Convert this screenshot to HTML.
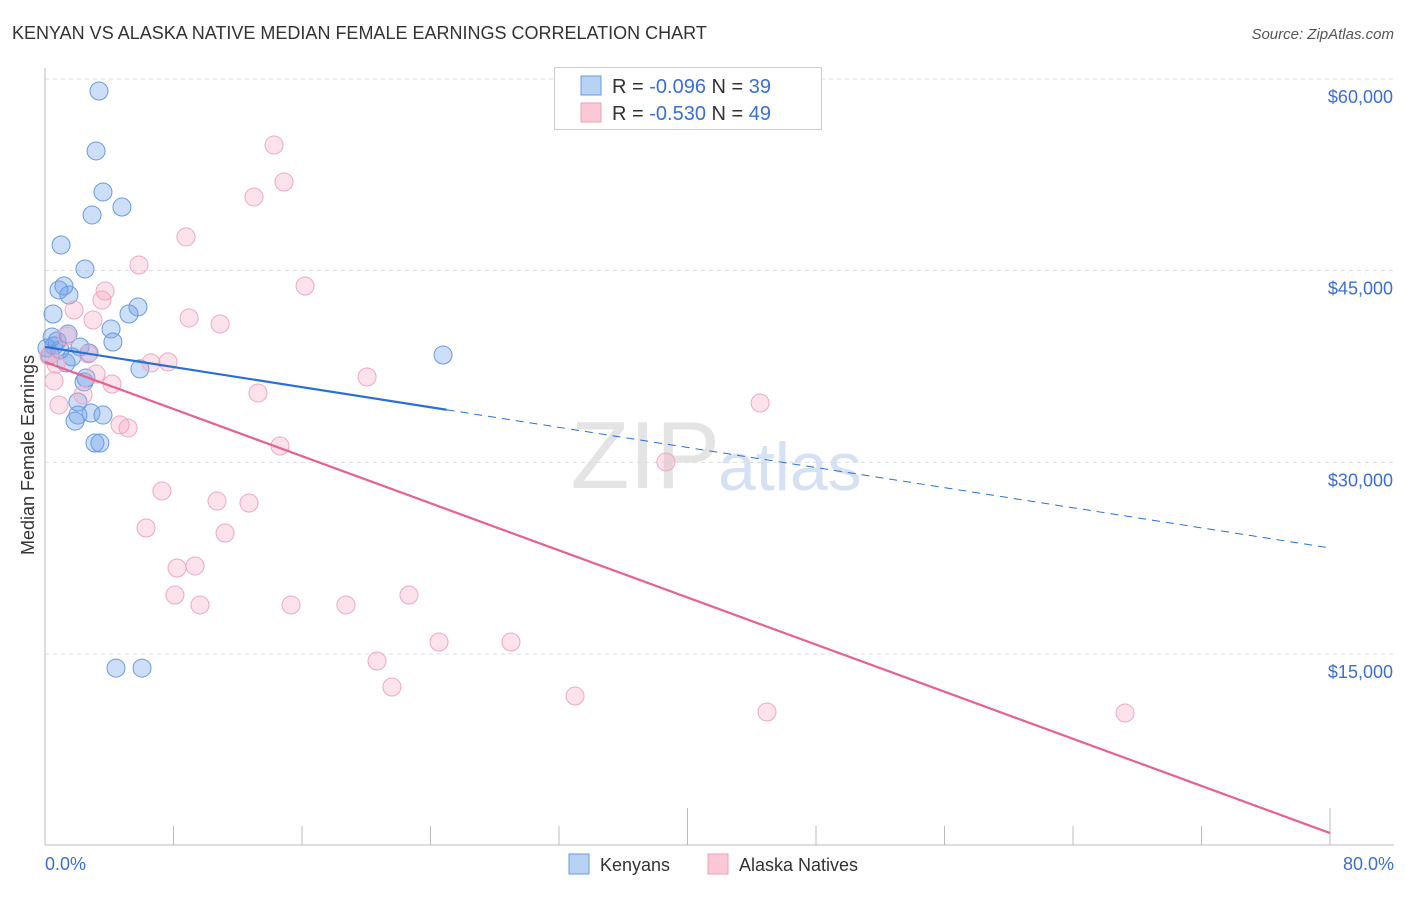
<!DOCTYPE html>
<html><head><meta charset="utf-8"><style>
body{margin:0;background:#fff;font-family:"Liberation Sans",sans-serif;}
svg text{font-family:"Liberation Sans",sans-serif;}
</style></head><body>
<svg id="chart" width="1406" height="892">
<text x="12" y="39" font-size="18" fill="#333">KENYAN VS ALASKA NATIVE MEDIAN FEMALE EARNINGS CORRELATION CHART</text>
<text x="1394" y="39" font-size="15" fill="#555" text-anchor="end" font-style="italic">Source: ZipAtlas.com</text>
<text x="720" y="488" font-size="96" fill="#e4e4e4" text-anchor="end" font-family="Liberation Serif">ZIP</text>
<text x="718" y="490" font-size="68" fill="#d6e2f4">atlas</text>
<g id="grid"></g><g id="axes"></g><g id="pts"></g><g id="trend"></g>
<text transform="translate(34,455) rotate(-90)" font-size="18" fill="#333" text-anchor="middle">Median Female Earnings</text>
<text x="45" y="870" font-size="18" fill="#3b6fd4">0.0%</text>
<text x="1394" y="870" font-size="18" fill="#3b6fd4" text-anchor="end">80.0%</text>
<g>
<rect x="554.5" y="67.5" width="267" height="62" fill="#fff" stroke="#ccc"/>
<rect x="581" y="76" width="20" height="19" fill="#b8d2f4" stroke="#6a9ae0"/>
<rect x="581" y="103" width="20" height="19" fill="#fbc8d6" stroke="#f0a0b8"/>
<text x="612" y="93" font-size="20" fill="#333">R = <tspan fill="#3b6fd4">-0.096</tspan>   N = <tspan fill="#3b6fd4">39</tspan></text>
<text x="612" y="120" font-size="20" fill="#333">R = <tspan fill="#3b6fd4">-0.530</tspan>   N = <tspan fill="#3b6fd4">49</tspan></text>
</g>
<g><rect x="569" y="854" width="20" height="20" fill="#b8d2f4" stroke="#6a9ae0"/><text x="600" y="871" font-size="18" fill="#333">Kenyans</text></g>
<g><rect x="708" y="854" width="20" height="20" fill="#fbc8d6" stroke="#f0a0b8"/><text x="739" y="871" font-size="18" fill="#333">Alaska Natives</text></g>
</svg>
<script>
const yTicks=[15000,30000,45000,60000];
const yTickLabels=["$15,000","$30,000","$45,000","$60,000"];
const kenX=[3.36,3.18,3.61,2.93,4.79,1.0,2.49,0.87,1.18,1.49,5.79,5.23,0.5,4.11,1.43,0.44,0.75,4.23,0.56,2.18,0.12,1.68,2.74,1.31,5.91,2.55,2.43,24.78,2.05,2.86,2.05,3.61,1.87,3.11,3.42,4.42,6.04,0.31,0.93];
const kenY=[59060,54370,51160,49360,49980,47010,45130,43490,43800,43100,42160,41610,41610,40440,40040,39810,39500,39420,39110,39030,38950,38250,38560,37780,37310,36600,36290,38400,34720,33860,33700,33700,33230,31510,31510,13900,13900,38400,38800];
const akX=[14.26,14.88,13.01,8.78,5.85,16.19,3.74,3.55,1.81,2.99,8.97,10.9,1.37,2.68,6.6,7.66,0.68,0.25,20.05,3.18,4.17,0.56,13.26,2.37,0.87,4.67,5.17,14.63,44.52,38.66,7.28,10.71,12.7,6.29,11.21,8.22,9.34,8.09,9.65,15.32,18.74,22.66,24.53,29.01,20.67,21.6,33.0,44.95,67.24];
const akY=[54830,51940,50770,47640,45440,43800,43410,42700,41920,41140,41300,40830,39890,38480,37780,37860,37700,38320,36680,36910,36130,36370,35430,35270,34490,32930,32690,31280,34640,30030,27760,26970,26820,24860,24470,21730,21890,19620,18840,18840,18840,19620,15940,15940,14450,12420,11710,10460,10380];
const kenTrend=[39030,23300]; // value at 0% and 80%
const akTrend=[37860,990];
const kenSolidEnd=25;
const xs=p=>45+p/80*1285;
const ys=v=>79+(60000-v)*0.012778;
const NS="http://www.w3.org/2000/svg";
function mk(tag,attrs,parent){const e=document.createElementNS(NS,tag);for(const k in attrs)e.setAttribute(k,attrs[k]);document.getElementById(parent).appendChild(e);return e;}
yTicks.forEach((t,i)=>{
 const l=mk('line',{x1:45,x2:1394,y1:ys(t),y2:ys(t),stroke:'#ddd','stroke-dasharray':'4,4'},'grid');
 
 
 const tx=mk('text',{x:1393,y:ys(t)+24,'font-size':18,fill:'#3b6fd4','text-anchor':'end'},'grid');
 tx.textContent=yTickLabels[i];
 
 
});
const ax=mk('line',{x1:45,x2:1394,y1:845,y2:845,stroke:'#bbb'},'axes');


const ay=mk('line',{x1:45,x2:45,y1:68,y2:845,stroke:'#bbb'},'axes');


for(let i=1;i<=10;i++){
 const top=(i==5||i==10)?808:826;
 const t=mk('line',{x1:xs(i*8),x2:xs(i*8),y1:top,y2:845,stroke:'#bbb'},'axes');
 
 
}
kenX.forEach((x,i)=>{
 const c=mk('circle',{cx:xs(x),cy:ys(kenY[i]),r:9,fill:'rgba(110,160,235,0.35)',stroke:'#6a9ae0','stroke-width':1},'pts');
 
 
});
akX.forEach((x,i)=>{
 const c=mk('circle',{cx:xs(x),cy:ys(akY[i]),r:9,fill:'rgba(245,160,190,0.3)',stroke:'#f0a8c0','stroke-width':1},'pts');
 
 
});
const kv=p=>kenTrend[0]+(kenTrend[1]-kenTrend[0])*p/80;
const k1=mk('line',{x1:xs(0),y1:ys(kv(0)),x2:xs(kenSolidEnd),y2:ys(kv(kenSolidEnd)),stroke:'#2a6fd8','stroke-width':2.2},'trend');


const k2=mk('line',{x1:xs(kenSolidEnd),y1:ys(kv(kenSolidEnd)),x2:xs(80),y2:ys(kv(80)),stroke:'#2a6fd8','stroke-width':1,'stroke-dasharray':'8,6'},'trend');


const a1=mk('line',{x1:xs(0),y1:ys(akTrend[0]),x2:xs(80),y2:ys(akTrend[1]),stroke:'#e8628e','stroke-width':2.2},'trend');


</script>
</body></html>
